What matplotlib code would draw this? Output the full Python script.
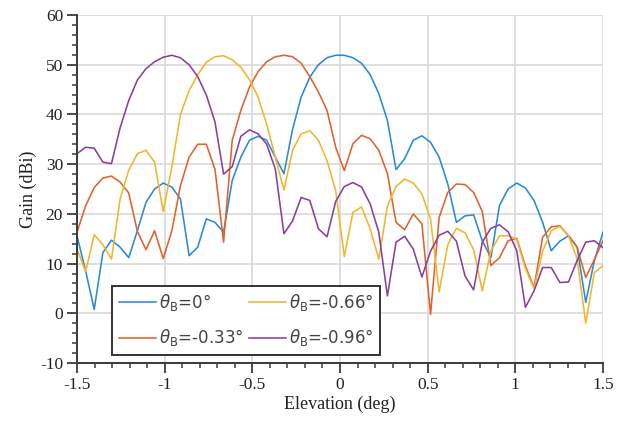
import matplotlib
matplotlib.use("Agg")
import matplotlib.pyplot as plt
import numpy as np
from matplotlib.ticker import MultipleLocator

# elevation grid (62 samples from -1.5 to 1.5 deg)
elevation = np.linspace(-1.5, 1.5, 62)

gain_0 = [15.6, 8.5, 0.8, 12.2, 14.7, 13.3, 11.2, 16.6, 22.3, 25.0,
          26.2, 25.4, 23.0, 11.6, 13.3, 19.0, 18.3, 16.3, 26.7, 31.4,
          34.8, 35.6, 34.8, 31.4, 28.1, 37.0, 43.5, 47.5, 50.0, 51.4,
          51.9, 51.9, 51.4, 50.3, 48.0, 44.2, 38.8, 28.9, 31.1, 34.8,
          35.7, 34.4, 31.4, 26.0, 18.3, 19.6, 19.8, 14.6, 11.2, 21.7,
          25.0, 26.2, 25.2, 22.7, 18.3, 12.6, 14.5, 15.6, 13.3, 2.2,
          10.6, 16.3]

gain_033 = [16.3, 21.6, 25.3, 27.2, 27.6, 26.4, 24.2, 16.5, 12.8, 16.6,
            11.0, 16.6, 25.7, 31.4, 34.0, 34.0, 29.0, 14.3, 34.8, 40.8,
            45.5, 48.6, 50.6, 51.6, 51.9, 51.6, 50.3, 47.6, 44.5, 40.8,
            33.4, 28.7, 34.1, 35.8, 35.1, 32.8, 28.1, 18.3, 16.8, 20.0,
            18.0, -0.2, 19.3, 24.3, 26.0, 25.9, 24.3, 20.5, 9.6, 11.2,
            14.6, 15.1, 9.5, 5.2, 15.3, 17.4, 17.6, 15.6, 13.3, 7.2,
            10.8, 14.6]

gain_066 = [12.9, 8.4, 15.8, 13.8, 10.9, 23.0, 28.8, 32.1, 32.8, 30.4,
            20.5, 29.4, 40.0, 44.8, 48.0, 50.5, 51.6, 51.8, 51.0, 49.5,
            47.0, 43.5, 38.0, 31.4, 24.8, 32.8, 36.1, 36.7, 34.8, 30.7,
            24.7, 11.4, 20.3, 21.4, 17.0, 10.9, 21.6, 25.5, 27.0, 26.2,
            24.0, 19.0, 4.3, 13.8, 17.1, 16.2, 12.8, 4.5, 12.5, 15.6,
            15.6, 14.9, 9.0, 5.0, 12.5, 16.6, 17.5, 15.6, 11.0, -2.0,
            8.2, 9.6]

gain_096 = [32.1, 33.4, 33.2, 30.4, 30.1, 37.3, 42.8, 46.9, 49.2, 50.6,
            51.5, 51.9, 51.4, 50.0, 47.6, 43.9, 38.5, 28.0, 29.5, 35.6,
            36.9, 36.1, 34.0, 29.0, 16.0, 18.6, 23.3, 22.7, 17.0, 15.4,
            22.5, 25.5, 26.3, 25.4, 22.0, 16.3, 3.5, 14.3, 15.5, 12.9,
            7.3, 12.5, 15.7, 16.5, 14.5, 7.5, 4.7, 14.3, 17.1, 17.8,
            16.4, 12.6, 1.2, 4.5, 9.2, 9.2, 6.2, 6.3, 10.6, 14.3,
            14.6, 13.2]

labels = [r'$\theta_{\rm B}$=0°', r'$\theta_{\rm B}$=-0.33°',
          r'$\theta_{\rm B}$=-0.66°', r'$\theta_{\rm B}$=-0.96°']
colors = ['#2a8ad6', '#e0622c', '#f0b62c', '#8a3f9e']

xticks = [-1.5, -1, -0.5, 0, 0.5, 1, 1.5]
xtick_labels = ['-1.5', '-1', '-0.5', '0', '0.5', '1', '1.5']
yticks = [-10, 0, 10, 20, 30, 40, 50, 60]

plt.rcParams['mathtext.fontset'] = 'dejavusans'

fig = plt.figure(figsize=(6.27, 4.36), dpi=100)
ax = fig.add_axes([0.1228, 0.1674, 0.8389, 0.7982])

series = [gain_0, gain_033, gain_066, gain_096]
for g, c, lab in zip(series, colors, labels):
    ax.plot(elevation, g, color=c, linewidth=1.15, label=lab)

ax.set_xlim(-1.5, 1.5)
ax.set_ylim(-10, 60)
ax.set_xticks(xticks, labels=xtick_labels)
ax.set_yticks(yticks, labels=[str(v) for v in yticks])
ax.xaxis.set_minor_locator(MultipleLocator(0.1))
ax.yaxis.set_minor_locator(MultipleLocator(2))

ax.grid(True, which='major', color='#dcdcdc', linewidth=1.3)
ax.set_axisbelow(True)
for s in ['top', 'right']:
    ax.spines[s].set_visible(False)
for s in ['left', 'bottom']:
    ax.spines[s].set_color('#3a3a3a')
    ax.spines[s].set_linewidth(1.4)

ax.tick_params(which='major', direction='out', length=7, width=1.3,
               color='#3a3a3a', labelsize=12.5, pad=3)
ax.tick_params(which='minor', direction='out', length=3.5, width=1.1,
               color='#3a3a3a')
for lab in ax.get_xticklabels() + ax.get_yticklabels():
    lab.set_family('Liberation Serif')
    lab.set_color('#222222')

ax.set_xlabel('Elevation (deg)', family='Liberation Serif', fontsize=13,
              color='#222222', labelpad=2)
ax.set_ylabel('Gain (dBi)', family='Liberation Serif', fontsize=13,
              color='#222222', labelpad=2)

leg = ax.legend(loc='lower left', bbox_to_anchor=(0.067, 0.023), ncol=2,
                prop={'family': 'DejaVu Sans', 'size': 12},
                frameon=True, fancybox=False, handlelength=2.2,
                columnspacing=0.35, handletextpad=0.2, labelspacing=0.85,
                borderpad=0.4, borderaxespad=0)
leg.get_frame().set_edgecolor('#333333')
leg.get_frame().set_linewidth(1.4)
leg.get_frame().set_alpha(1)
for t in leg.get_texts():
    t.set_color('#444444')

fig.savefig('out.png', dpi=100)
